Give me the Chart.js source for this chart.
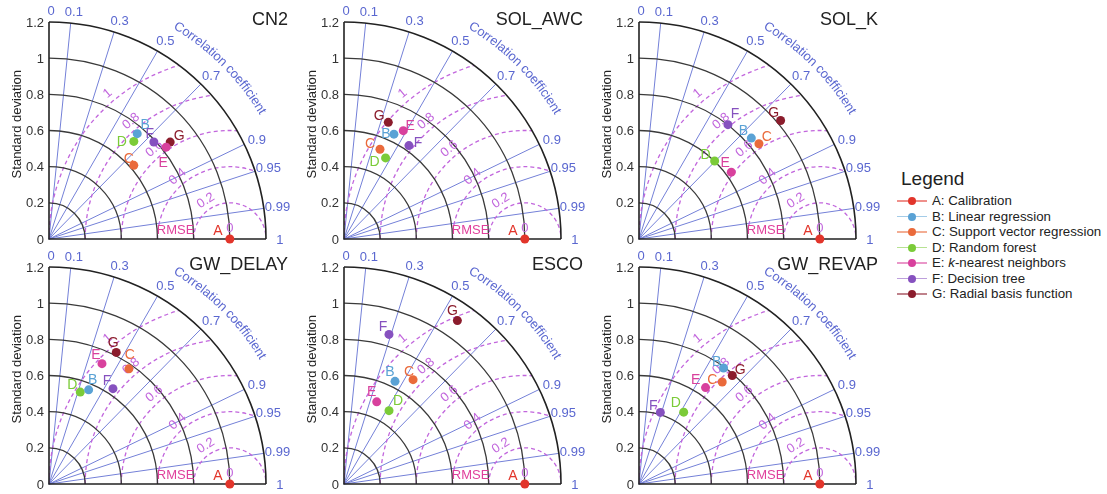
<!DOCTYPE html>
<html>
<head>
<meta charset="utf-8">
<script src="https://cdn.jsdelivr.net/npm/chart.js@4.4.1/dist/chart.umd.min.js"></script>
<style>
  body { margin: 0; background: #fff; width: 1107px; height: 494px; position: relative; overflow: hidden;
         font-family: "Liberation Sans", Arial, sans-serif; }
  .panel { position: absolute; }
  #legend { position: absolute; left: 0; top: 0; }
  .lg-title { position: absolute; left: 901px; top: 168px; font-size: 19px; color: #222; }
  .lg-row { position: absolute; left: 897px; height: 16px; font-size: 13.3px; color: #222; line-height: 16px; }
  .lg-line { position: absolute; left: 0; top: 7px; width: 30px; height: 1.5px; opacity: 0.55; }
  .lg-dot { position: absolute; left: 11px; top: 4px; width: 8px; height: 8px; border-radius: 50%; }
  .lg-text { position: absolute; left: 35px; top: 0; white-space: nowrap; }
</style>
</head>
<body>
<div id="legend"></div>
<script>
// models, A..G
const modelKeys = ["A", "B", "C", "D", "E", "F", "G"];
const modelNames = ["Calibration", "Linear regression", "Support vector regression", "Random forest",
  "k-nearest neighbors", "Decision tree", "Radial basis function"];
const modelColors = ["#e2352b", "#5aa2d5", "#ea6a3b", "#7bcb38", "#d8419d", "#8651bf", "#8b1c2c"];

const panelTitles = ["CN2", "SOL_AWC", "SOL_K", "GW_DELAY", "ESCO", "GW_REVAP"];

// standard deviation and correlation (order A..G)
const cn2Std = [1.0, 0.760, 0.621, 0.715, 0.823, 0.790, 0.858];
const cn2Corr = [1.0, 0.642, 0.755, 0.656, 0.787, 0.734, 0.781];
const solAwcStd = [1.0, 0.642, 0.535, 0.504, 0.683, 0.629, 0.690];
const solAwcCorr = [1.0, 0.430, 0.372, 0.456, 0.480, 0.571, 0.355];
const solKStd = [1.0, 0.835, 0.847, 0.601, 0.630, 0.801, 1.021];
const solKCorr = [1.0, 0.744, 0.783, 0.696, 0.810, 0.614, 0.767];
const gwDelayStd = [1.0, 0.565, 0.775, 0.537, 0.727, 0.635, 0.817];
const gwDelayCorr = [1.0, 0.388, 0.570, 0.322, 0.403, 0.557, 0.455];
const escoStd = [1.0, 0.634, 0.692, 0.476, 0.489, 0.864, 1.100];
const escoCorr = [1.0, 0.445, 0.552, 0.523, 0.370, 0.288, 0.570];
const gwRevapStd = [1.0, 0.794, 0.728, 0.468, 0.648, 0.413, 0.791];
const gwRevapCorr = [1.0, 0.589, 0.632, 0.528, 0.568, 0.286, 0.652];

const panelStd = [cn2Std, solAwcStd, solKStd, gwDelayStd, escoStd, gwRevapStd];
const panelCorr = [cn2Corr, solAwcCorr, solKCorr, gwDelayCorr, escoCorr, gwRevapCorr];

// axis ticks
const stdTicks = [0, 0.2, 0.4, 0.6, 0.8, 1, 1.2];
const corrLines = [0.1, 0.3, 0.5, 0.7, 0.9, 0.95, 0.99];
const corrLabels = [0, 0.1, 0.3, 0.5, 0.7, 0.9, 0.95, 0.99, 1];
const rmseRings = [0.2, 0.4, 0.6, 0.8, 1];

// letter offsets (px) beside each marker
const letterOffsets = [
  [[-12, -8], [8, -8], [-5, -6], [-12, 1], [-3, 16], [-4, -8], [9, -6]],
  [[-12, -8], [-8, 0], [-10, -5], [-11, 4], [7, -5], [9, -2], [-9, -6]],
  [[-12, -8], [-8, -7], [8, -7], [-9, -6], [-6, -9], [7, -11], [-7, -7]],
  [[-12, -8], [4, -10], [1, -14], [-8, -7], [-6, -9], [-6, -7], [-3, -9]],
  [[-12, -8], [-5, -9], [-4, -8], [9, -9], [-5, -10], [-6, -7], [-5, -9]],
  [[-12, -8], [-7, -6], [-10, -2], [-8, -9], [-10, -7], [-7, -6], [8, -5]],
];

const FONT = '"Liberation Sans", Arial, sans-serif';
const BLUE = "#5a67d0";
const RMSE_COL = "#c266dd";

const taylorGrid = {
  id: "taylorGrid",
  beforeDatasetsDraw(chart) {
    const { ctx, scales: { x, y } } = chart;
    const ox = x.getPixelForValue(0), oy = y.getPixelForValue(0);
    const R = x.getPixelForValue(1) - ox;
    const rMax = 1.2 * R;
    ctx.save();

    // correlation rays
    ctx.strokeStyle = "#7480d8";
    ctx.lineWidth = 1;
    corrLines.forEach(c => {
      const t = Math.acos(c);
      ctx.beginPath();
      ctx.moveTo(ox, oy);
      ctx.lineTo(ox + rMax * Math.cos(t), oy - rMax * Math.sin(t));
      ctx.stroke();
    });

    // RMSE rings centred on the reference point
    ctx.save();
    ctx.beginPath();
    ctx.moveTo(ox, oy);
    ctx.arc(ox, oy, rMax, -Math.PI / 2, 0);
    ctx.closePath();
    ctx.clip();
    ctx.strokeStyle = RMSE_COL;
    ctx.lineWidth = 1.3;
    ctx.setLineDash([4, 3]);
    const ax = x.getPixelForValue(1);
    rmseRings.forEach(r => {
      ctx.beginPath();
      ctx.arc(ax, oy, r * R, Math.PI, 2 * Math.PI);
      ctx.stroke();
    });
    ctx.restore();

    // std dev arcs
    ctx.strokeStyle = "#3a3a3a";
    ctx.lineWidth = 1.3;
    stdTicks.slice(1, -1).forEach(s => {
      ctx.beginPath();
      ctx.arc(ox, oy, s * R, -Math.PI / 2, 0);
      ctx.stroke();
    });
    ctx.strokeStyle = "#222";
    ctx.lineWidth = 1.6;
    ctx.beginPath();
    ctx.arc(ox, oy, rMax, -Math.PI / 2, 0);
    ctx.stroke();
    ctx.beginPath();
    ctx.moveTo(ox, oy - rMax);
    ctx.lineTo(ox, oy);
    ctx.lineTo(ox + rMax, oy);
    ctx.stroke();

    // std tick labels
    ctx.fillStyle = "#333";
    ctx.font = "13px " + FONT;
    ctx.textAlign = "right";
    ctx.textBaseline = "middle";
    stdTicks.forEach(s => ctx.fillText(String(s), ox - 5, oy - s * R + 1));

    ctx.save();
    ctx.translate(ox - 32, oy - 0.635 * R);
    ctx.rotate(-Math.PI / 2);
    ctx.textAlign = "center";
    ctx.fillStyle = "#222";
    ctx.fillText("Standard deviation", 0, 0);
    ctx.restore();

    // correlation labels
    ctx.fillStyle = BLUE;
    ctx.textAlign = "center";
    corrLabels.forEach(c => {
      const t = Math.acos(c);
      const rl = 1.265 * R;
      ctx.fillText(String(c), ox + rl * Math.cos(t) + 2, oy - rl * Math.sin(t) + 1);
    });

    // curved axis title
    const title = "Correlation coefficient";
    const rt = 248;
    const w = ctx.measureText(title).width;
    let th = Math.PI / 4 + (w / 2) / rt;
    for (const ch of title) {
      const cw = ctx.measureText(ch).width;
      const tc = th - (cw / 2) / rt;
      ctx.save();
      ctx.translate(ox + rt * Math.cos(tc), oy - rt * Math.sin(tc));
      ctx.rotate(Math.PI / 2 - tc);
      ctx.fillText(ch, 0, 0);
      ctx.restore();
      th -= cw / rt;
    }

    // RMSE ring labels, rotated along the rings
    ctx.fillStyle = RMSE_COL;
    rmseRings.forEach(r => {
      const a = (r < 0.3 ? 122 : 130) * Math.PI / 180;
      const rl = (r + 0.05) * R;
      ctx.save();
      ctx.translate(ax + rl * Math.cos(a), oy - rl * Math.sin(a));
      ctx.rotate(Math.PI / 2 - a);
      ctx.fillText(String(r), 0, 0);
      ctx.restore();
    });
    ctx.fillText("0", ax, oy - 11);
    ctx.fillStyle = "#e0409c";
    ctx.fillText("RMSE", ox + 0.7 * R, oy - 0.05 * R);

    ctx.restore();
  },
  afterDatasetsDraw(chart, args, opts) {
    const { ctx, chartArea } = chart;
    ctx.save();
    ctx.font = "14px " + FONT;
    ctx.textAlign = "center";
    ctx.textBaseline = "middle";
    chart.data.datasets.forEach((ds, i) => {
      const el = chart.getDatasetMeta(i).data[0];
      const off = opts.offsets[i];
      ctx.fillStyle = ds.backgroundColor;
      ctx.fillText(modelKeys[i], el.x + off[0], el.y + off[1]);
    });
    ctx.fillStyle = "#222";
    ctx.font = "18px " + FONT;
    ctx.textAlign = "right";
    ctx.fillText(opts.title, chartArea.left + 239, chartArea.top - 2);
    ctx.restore();
  }
};

const CW = 300, CH = 247;
const panelLeft = [0, 295, 590, 0, 295, 590];
const panelTop = [0, 0, 0, 245, 245, 245];

panelTitles.forEach((name, p) => {
  const canvas = document.createElement("canvas");
  canvas.className = "panel";
  canvas.width = CW;
  canvas.height = CH;
  canvas.style.left = panelLeft[p] + "px";
  canvas.style.top = panelTop[p] + "px";
  document.body.appendChild(canvas);

  const datasets = modelKeys.map((k, i) => {
    const s = panelStd[p][i], c = panelCorr[p][i];
    return {
      label: k + ": " + modelNames[i],
      data: [{ x: s * c, y: s * Math.sqrt(1 - c * c) }],
      backgroundColor: modelColors[i],
      borderColor: modelColors[i],
      pointRadius: 4.5,
      borderWidth: 0,
      clip: false,
    };
  });

  new Chart(canvas, {
    type: "scatter",
    data: { datasets },
    options: {
      responsive: false,
      animation: false,
      devicePixelRatio: 1,
      layout: { padding: { left: 49, top: 22, right: CW - 49 - 217, bottom: CH - 239 } },
      scales: {
        x: { type: "linear", min: 0, max: 1.2, display: false },
        y: { type: "linear", min: 0, max: 1.2, display: false },
      },
      plugins: {
        legend: { display: false },
        tooltip: { enabled: false },
        taylorGrid: { title: name, offsets: letterOffsets[p] },
      },
    },
    plugins: [taylorGrid],
  });
});

// legend
const legend = document.getElementById("legend");
legend.innerHTML = '<div class="lg-title">Legend</div>';
modelKeys.forEach((k, i) => {
  const row = document.createElement("div");
  row.className = "lg-row";
  row.style.top = (193 + i * 15.5) + "px";
  const name = i === 4 ? "<i>k</i>-nearest neighbors" : modelNames[i];
  row.innerHTML = '<span class="lg-line" style="background:' + modelColors[i] + '"></span>' +
    '<span class="lg-dot" style="background:' + modelColors[i] + '"></span>' +
    '<span class="lg-text">' + k + ": " + name + "</span>";
  legend.appendChild(row);
});
</script>
</body>
</html>
